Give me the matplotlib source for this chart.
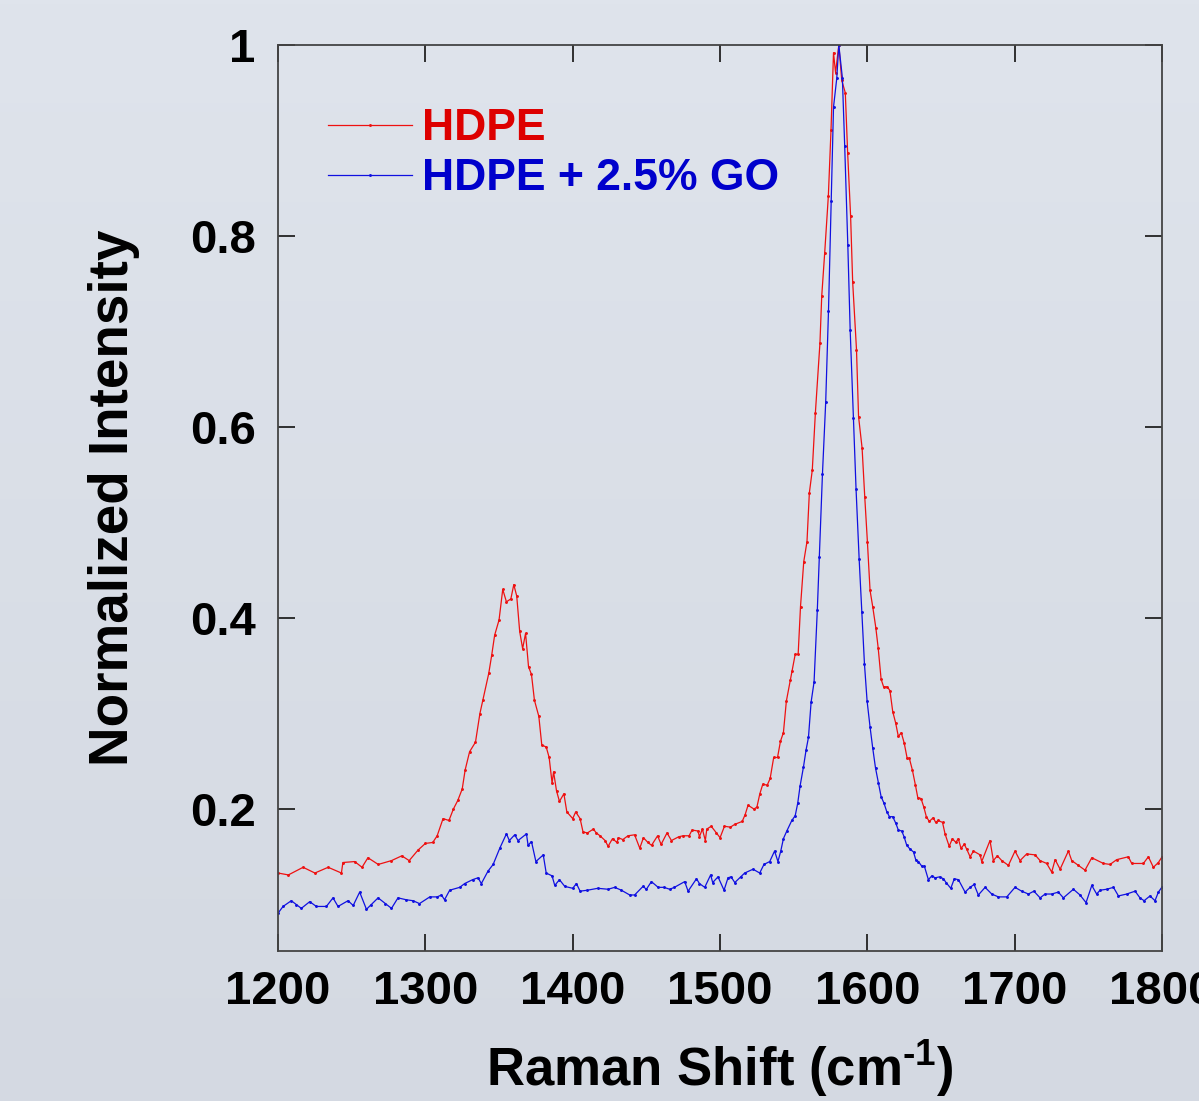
import numpy as np
import matplotlib
matplotlib.use("Agg")
import matplotlib.pyplot as plt

plt.rcParams['font.family'] = ['Liberation Sans', 'DejaVu Sans']
plt.rcParams['font.weight'] = 'bold'
plt.rcParams['mathtext.fontset'] = 'custom'
plt.rcParams['mathtext.rm'] = 'Liberation Sans:bold'
plt.rcParams['mathtext.bf'] = 'Liberation Sans:bold'
plt.rcParams['mathtext.default'] = 'rm'

# Raman spectra (shift in cm^-1, normalised intensity)
hdpe_shift = [1200, 1207, 1217, 1225, 1234, 1243, 1244, 1252, 1257, 1261, 1268, 1277, 1284, 1289,
              1295, 1300, 1305, 1308, 1312, 1316, 1319, 1322, 1325, 1327, 1330, 1334, 1337, 1339,
              1343, 1345, 1347, 1350, 1352.5, 1355, 1358, 1360, 1362, 1364, 1366, 1368, 1370, 1372,
              1374, 1377, 1379, 1382, 1384, 1386, 1387, 1389, 1391, 1394, 1396, 1400, 1402, 1405,
              1407, 1410, 1414, 1416, 1418.5, 1422, 1424, 1427, 1430, 1431, 1434, 1437.5, 1442,
              1445.5, 1448, 1451, 1453.5, 1457.6, 1460, 1464, 1467, 1472, 1475, 1479, 1481, 1485,
              1486, 1488, 1490, 1491, 1494, 1497.5, 1500, 1503, 1507, 1510, 1515, 1517, 1519, 1523,
              1525, 1527, 1529, 1532, 1534, 1536.4, 1539, 1541, 1543, 1545, 1547.7, 1549, 1551,
              1553, 1554.6, 1556.8, 1559, 1560.6, 1562.6, 1564.7, 1567.8, 1569, 1571, 1573.5,
              1575.3, 1577, 1578.4, 1580.6, 1582.6, 1585, 1586.6, 1588.6, 1590, 1592.6, 1594,
              1596.4, 1598.2, 1600, 1601.8, 1603.6, 1605.7, 1607.3, 1609.3, 1611, 1613.5, 1615.3,
              1617.2, 1619.2, 1621, 1623, 1625, 1627, 1628.5, 1630.5, 1632.6, 1634.2, 1636.4,
              1638.3, 1640, 1642, 1644.7, 1646.3, 1648, 1651, 1652.7, 1655.5, 1657.7, 1660, 1661.7,
              1663.5, 1665.8, 1667.4, 1669.7, 1672, 1676.5, 1677.6, 1683.2, 1685.5, 1688.2, 1691.2,
              1695.7, 1700.2, 1703.6, 1708.1, 1713.8, 1717.2, 1721.7, 1725.1, 1727.4, 1730.8,
              1736.4, 1738.7, 1743.2, 1747.7, 1752.3, 1760.2, 1764.7, 1769.2, 1777.1, 1779.4,
              1787.3, 1790.7, 1794.1, 1797.5, 1800]
hdpe_int = [0.133, 0.131, 0.139, 0.133, 0.139, 0.133, 0.144, 0.145, 0.139, 0.149, 0.142, 0.146, 0.151, 0.146,
            0.157, 0.164, 0.165, 0.172, 0.190, 0.188, 0.200, 0.209, 0.221, 0.241, 0.260, 0.270, 0.300, 0.314,
            0.342, 0.361, 0.382, 0.398, 0.430, 0.417, 0.420, 0.435, 0.423, 0.386, 0.368, 0.384, 0.349, 0.341,
            0.314, 0.297, 0.267, 0.265, 0.254, 0.227, 0.239, 0.219, 0.208, 0.216, 0.197, 0.190, 0.197, 0.190,
            0.176, 0.175, 0.179, 0.175, 0.172, 0.167, 0.161, 0.169, 0.165, 0.170, 0.168, 0.172, 0.173,
            0.159, 0.170, 0.165, 0.162, 0.172, 0.163, 0.175, 0.167, 0.171, 0.172, 0.172, 0.178, 0.177,
            0.171, 0.179, 0.167, 0.179, 0.182, 0.175, 0.170, 0.182, 0.181, 0.184, 0.187, 0.194, 0.204, 0.200,
            0.202, 0.216, 0.226, 0.225, 0.232, 0.254, 0.254, 0.271, 0.280, 0.313, 0.335, 0.345, 0.362,
            0.362, 0.412, 0.459, 0.480, 0.531, 0.555, 0.615, 0.688, 0.737, 0.782, 0.842,
            0.911, 0.992, 0.971, 1.000, 0.963, 0.950, 0.887, 0.821, 0.752, 0.681, 0.611,
            0.578, 0.527, 0.480, 0.429, 0.412, 0.390, 0.369, 0.336, 0.328, 0.328, 0.324,
            0.302, 0.290, 0.276, 0.280, 0.269, 0.253, 0.253, 0.241, 0.225, 0.212, 0.211,
            0.202, 0.192, 0.187, 0.191, 0.186, 0.188, 0.186, 0.174, 0.161, 0.169, 0.165, 0.169,
            0.159, 0.163, 0.158, 0.150, 0.156, 0.152, 0.145, 0.167, 0.146, 0.151, 0.146,
            0.141, 0.156, 0.146, 0.153, 0.152, 0.146, 0.143, 0.134, 0.147, 0.137,
            0.156, 0.146, 0.141, 0.136, 0.149, 0.143, 0.142, 0.147, 0.150, 0.143,
            0.143, 0.150, 0.139, 0.144, 0.150]

go_shift = [1200, 1203.4, 1209, 1212.4, 1215.8, 1221.5, 1226, 1232.8, 1237.3, 1240.7, 1247.5, 1251,
            1255.4, 1260, 1263.3, 1267.9, 1272.8, 1277, 1281.4, 1287, 1291.6, 1296, 1303, 1308,
            1310.9, 1313, 1316.5, 1323.3, 1326.7, 1332, 1335.7, 1338, 1342.5, 1346, 1350.5, 1355,
            1357, 1360.6, 1362.9, 1368.6, 1369.7, 1372, 1375, 1380, 1382, 1386, 1387.8, 1391,
            1394.6, 1400, 1402.5, 1405, 1410, 1417, 1424, 1428.5, 1433, 1438.7, 1442, 1447.7, 1450,
            1453.4, 1458, 1462, 1465.8, 1469, 1476, 1478.3, 1484, 1486, 1489.6, 1493.6, 1495,
            1498.6, 1502.7, 1505.4, 1507.5, 1510, 1514, 1516.7, 1522.4, 1526.9, 1529.8, 1533.7,
            1537, 1539.3, 1541.2, 1543, 1545.3, 1548.7, 1551, 1552.7, 1554.3, 1556.6, 1558.4, 1560,
            1561.8, 1563.8, 1566, 1567.4, 1569.5, 1571.7, 1573.6, 1575.4, 1577, 1579.2, 1580.6,
            1583, 1584.6, 1586.7, 1588.3, 1590.5, 1592.3, 1594.4, 1596.2, 1598, 1599.8, 1601.8,
            1603.6, 1605.5, 1607.5, 1609.3, 1611.3, 1613.2, 1615, 1617.2, 1619.3, 1621, 1623.3,
            1624.9, 1626.7, 1629, 1631.3, 1632.8, 1634.6, 1637, 1638.7, 1641.4, 1643.7, 1646, 1649,
            1651.6, 1653.4, 1656.6, 1659, 1661.8, 1666.3, 1669.7, 1672.4, 1675.3, 1679.9, 1684.4,
            1688.9, 1694.6, 1700.2, 1704.7, 1709.3, 1713, 1717.2, 1720.6, 1725, 1729.6, 1733,
            1739.8, 1744.3, 1748.4, 1752.3, 1755.6, 1757.9, 1762.4, 1767, 1770.4, 1776, 1781.7,
            1785, 1787.8, 1791.8, 1795.2, 1797.5, 1799.8]
go_int = [0.091, 0.098, 0.104, 0.100, 0.096, 0.103, 0.098, 0.098, 0.107, 0.098, 0.104, 0.099,
          0.113, 0.095, 0.100, 0.107, 0.101, 0.096, 0.107, 0.105, 0.104, 0.101, 0.108, 0.108,
          0.110, 0.105, 0.115, 0.118, 0.122, 0.126, 0.128, 0.122, 0.135, 0.142, 0.159, 0.174,
          0.167, 0.173, 0.167, 0.174, 0.162, 0.166, 0.145, 0.152, 0.133, 0.130, 0.120, 0.126,
          0.119, 0.117, 0.122, 0.114, 0.115, 0.117, 0.116, 0.118, 0.115, 0.110, 0.110, 0.119, 0.116,
          0.124, 0.118, 0.118, 0.116, 0.118, 0.124, 0.114, 0.127, 0.122, 0.118, 0.131, 0.123,
          0.129, 0.115, 0.128, 0.129, 0.123, 0.129, 0.133, 0.137, 0.133, 0.142, 0.145,
          0.156, 0.145, 0.156, 0.169, 0.177, 0.188, 0.193, 0.206, 0.224, 0.244, 0.262, 0.275,
          0.312, 0.333, 0.408, 0.464, 0.551, 0.626, 0.722, 0.837, 0.935, 0.965, 1.000,
          0.966, 0.894, 0.791, 0.702, 0.609, 0.535, 0.462, 0.406, 0.352, 0.313, 0.286,
          0.264, 0.243, 0.227, 0.213, 0.206, 0.197, 0.192, 0.192, 0.185, 0.178, 0.177,
          0.171, 0.162, 0.158, 0.155, 0.147, 0.145, 0.140, 0.140, 0.126, 0.130, 0.128, 0.129,
          0.127, 0.123, 0.117, 0.127, 0.126, 0.113, 0.118, 0.121, 0.110, 0.118, 0.111,
          0.108, 0.108, 0.118, 0.114, 0.111, 0.114, 0.107, 0.111, 0.111, 0.113, 0.107,
          0.116, 0.110, 0.102, 0.120, 0.111, 0.115, 0.116, 0.118, 0.109, 0.111, 0.114,
          0.107, 0.104, 0.109, 0.104, 0.113, 0.118]

x_ticks = [1200, 1300, 1400, 1500, 1600, 1700, 1800]
y_ticks = [0.2, 0.4, 0.6, 0.8, 1.0]
y_tick_labels = ['0.2', '0.4', '0.6', '0.8', '1']

fig = plt.figure(figsize=(11.99, 11.01), dpi=100)

# soft vertical gradient background
bg = fig.add_axes([0, 0, 1, 1], zorder=-10)
grad = np.linspace(0, 1, 256).reshape(-1, 1)
top_c = np.array([0xdf, 0xe4, 0xec]) / 255.0
bot_c = np.array([0xd4, 0xd9, 0xe2]) / 255.0
img = top_c * (1 - grad[..., None]) + bot_c * grad[..., None]
bg.imshow(img.reshape(256, 1, 3), aspect='auto', extent=[0, 1, 0, 1])
bg.axis('off')

ax = fig.add_axes([0.2319, 0.1362, 0.7373, 0.8229])
ax.patch.set_alpha(0)

ax.plot(hdpe_shift, hdpe_int, color='#ee1111', lw=0.9, marker='.', ms=2.2, label='HDPE')
ax.plot(go_shift, go_int, color='#1010e0', lw=0.9, marker='.', ms=2.2, label='HDPE + 2.5% GO')

ax.set_xlim(1200, 1800)
ax.set_ylim(0.0513, 1.0)
ax.set_xticks(x_ticks)
ax.set_yticks(y_ticks)
ax.set_yticklabels(y_tick_labels)

ax.tick_params(direction='in', length=12, width=1.3, top=True, right=True,
               labelsize=34, colors='#222222', labelcolor='black')
ax.tick_params(axis='y', pad=16)
ax.tick_params(axis='x', pad=14)
for lab in ax.get_xticklabels() + ax.get_yticklabels():
    lab.set_fontweight('bold')
for sp in ax.spines.values():
    sp.set_color('#444444')
    sp.set_linewidth(1.3)

ax.set_xlabel('Raman Shift (cm$^{\\text{-1}}$)', fontsize=38, fontweight='bold', labelpad=17)
ax.set_ylabel('Normalized Intensity', fontsize=39.5, fontweight='bold', labelpad=36)

leg = ax.legend(loc='upper left', bbox_to_anchor=(0.0563, 0.930), frameon=False,
                handlelength=1.9, handletextpad=0.23, labelspacing=0.2,
                numpoints=1, borderaxespad=0, borderpad=0,
                labelcolor=['#dd0000', '#0000cc'], prop={'weight': 'bold', 'size': 32})

fig.savefig('out.png', dpi=100)
